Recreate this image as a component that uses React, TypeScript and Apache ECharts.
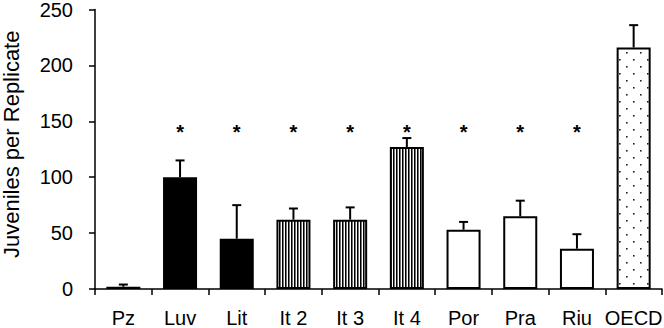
import React, { useEffect, useRef } from "react";
import * as echarts from "echarts";

const categories = ["Pz", "Luv", "Lit", "It 2", "It 3", "It 4", "Por", "Pra", "Riu", "OECD"];
const means = [2, 100, 45, 62, 62, 127, 53, 65, 36, 216];
const errors = [2, 15, 30, 10, 11, 8, 7, 14, 13, 20];
const significant = [false, true, true, true, true, true, true, true, true, false];
const fillKinds = ["solid", "solid", "solid", "stripes", "stripes", "stripes", "open", "open", "open", "dots"];
const yTicks = { min: 0, max: 250, interval: 50 };
const yTitle = "Juveniles per Replicate";
const SIG_LEVEL = 140;

const FONT = "'Liberation Sans', Arial, sans-serif";

function stripeCanvas() {
  const c = document.createElement("canvas");
  c.width = 3;
  c.height = 4;
  const ctx = c.getContext("2d")!;
  ctx.fillStyle = "#fff";
  ctx.fillRect(0, 0, 3, 4);
  ctx.fillStyle = "#000";
  ctx.fillRect(0, 0, 1, 4);
  ctx.fillStyle = "rgba(0,0,0,0.55)";
  ctx.fillRect(1, 0, 1, 4);
  return c;
}

function dotCanvas() {
  const c = document.createElement("canvas");
  c.width = 14;
  c.height = 14;
  const ctx = c.getContext("2d")!;
  ctx.fillStyle = "#fff";
  ctx.fillRect(0, 0, 14, 14);
  ctx.fillStyle = "#222";
  ctx.fillRect(3, 3, 1.6, 1.6);
  ctx.fillRect(10, 10, 1.6, 1.6);
  return c;
}

export default function App() {
  const ref = useRef<HTMLDivElement>(null);
  useEffect(() => {
    if (!ref.current) return;
    const chart = echarts.init(ref.current, undefined, { renderer: "svg" });
    const stripes = { image: stripeCanvas(), repeat: "repeat" };
    const dots = { image: dotCanvas(), repeat: "repeat" };
    const fillFor = (k: string): any =>
      k === "solid" ? "#000" : k === "stripes" ? stripes : k === "dots" ? dots : "#fff";

    const barData = means.map((v, i) => ({
      value: v,
      itemStyle: { color: fillFor(fillKinds[i]), borderColor: "#000", borderWidth: 2 },
    }));
    const errData = means.map((v, i) => [i, v, errors[i]]);
    const sigData = significant
      .map((s, i) => (s ? [i, SIG_LEVEL] : null))
      .filter((d) => d !== null);

    chart.setOption({
      animation: false,
      grid: { left: 95, right: 2, top: 9.5, bottom: 39, containLabel: false, outerBoundsMode: "none" },
      xAxis: {
        type: "category",
        data: categories,
        axisLine: { lineStyle: { color: "#000", width: 1.5 } },
        axisTick: { show: true, length: 6, lineStyle: { color: "#000", width: 1.5 } },
        axisLabel: { color: "#000", fontSize: 20, fontFamily: FONT, margin: 19, interval: 0 },
      },
      yAxis: {
        type: "value",
        min: yTicks.min,
        max: yTicks.max,
        interval: yTicks.interval,
        name: yTitle,
        nameLocation: "middle",
        nameGap: 73,
        nameTextStyle: { color: "#000", fontSize: 22, fontFamily: FONT, padding: [0, 0, 0, 10] },
        axisLine: { show: true, lineStyle: { color: "#000", width: 1.5 } },
        axisTick: { show: true, length: 6, lineStyle: { color: "#000", width: 1.5 } },
        axisLabel: { color: "#000", fontSize: 20, fontFamily: FONT, margin: 22 },
        splitLine: { show: false },
      },
      series: [
        {
          type: "bar",
          data: barData,
          barWidth: "60%",
          z: 2,
        },
        {
          type: "custom",
          z: 3,
          data: errData,
          renderItem: (params: any, api: any) => {
            const i = api.value(0);
            const v = api.value(1);
            const e = api.value(2);
            const base = api.coord([i, v]);
            const top = api.coord([i, v + e]);
            const style = { stroke: "#000", lineWidth: 2 };
            return {
              type: "group",
              children: [
                { type: "line", shape: { x1: base[0], y1: base[1], x2: top[0], y2: top[1] }, style },
                { type: "line", shape: { x1: top[0] - 4.5, y1: top[1], x2: top[0] + 4.5, y2: top[1] }, style },
              ],
            };
          },
        },
        {
          type: "custom",
          z: 3,
          data: sigData,
          renderItem: (params: any, api: any) => {
            const p = api.coord([api.value(0), api.value(1)]);
            return {
              type: "text",
              x: p[0],
              y: p[1],
              style: {
                text: "*",
                fill: "#000",
                font: `bold 20px ${FONT}`,
                align: "center",
                verticalAlign: "middle",
              },
            };
          },
        },
      ],
    });
    return () => chart.dispose();
  }, []);
  return <div ref={ref} style={{ width: 664, height: 328, position: "absolute", left: 0, top: 0, background: "#fff" }} />;
}
